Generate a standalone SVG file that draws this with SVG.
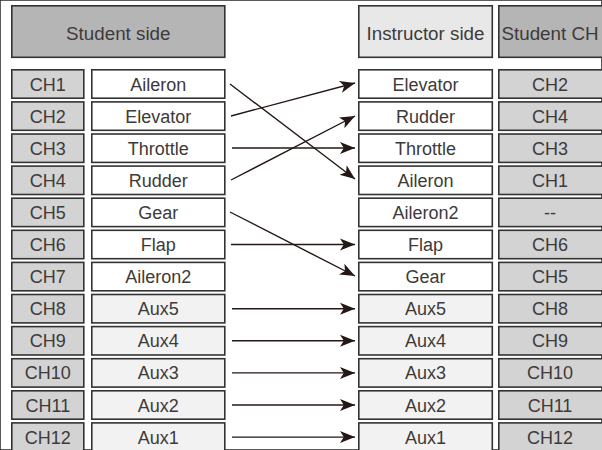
<svg xmlns="http://www.w3.org/2000/svg" width="602" height="450" viewBox="0 0 602 450">
<style>
rect{stroke:#333;stroke-width:1.6}
.hd{fill:#b5b5b6}
.hl{fill:#e8e8e9}
.ch{fill:#d3d3d4}
.w{fill:#ffffff}
.ax{fill:#f2f2f3}
text{font-family:"Liberation Sans",Arial,sans-serif;fill:#3e3a39;text-anchor:middle}
.t{font-size:18px}
.h{font-size:18.8px}
.c line{stroke:#231815;stroke-width:1.4;marker-end:url(#ah)}
</style>
<defs>
<marker id="ah" markerUnits="userSpaceOnUse" markerWidth="17" markerHeight="14" refX="15" refY="7" orient="auto" viewBox="0 0 17 14">
<path d="M0,1 L15,7 L0,13 L3.8,7 Z" fill="#231815"/>
</marker>
</defs>
<rect fill="#fff" stroke="none" x="0" y="0" width="602" height="450"/>
<g id="hdr-student"><rect class="hd" x="11.8" y="5.8" width="213" height="51.5"/><text class="h" x="118.3" y="40">Student side</text></g>
<g id="hdr-instructor"><rect class="hl" x="358.8" y="5.8" width="133.5" height="51.5"/><text class="h" x="425.5" y="40">Instructor side</text></g>
<g id="hdr-studentch"><rect class="hd" x="498.8" y="5.8" width="115" height="51.5"/><text class="h" x="550" y="40">Student CH</text></g>

<g id="row1"><rect class="ch" x="11.8" y="69.8" width="72" height="28.4"/><text class="t" x="47.8" y="90.5">CH1</text><rect class="w" x="91.8" y="69.8" width="133" height="28.4"/><text class="t" x="158.3" y="90.5">Aileron</text></g>
<g id="row2"><rect class="ch" x="11.8" y="101.9" width="72" height="28.4"/><text class="t" x="47.8" y="122.6">CH2</text><rect class="w" x="91.8" y="101.9" width="133" height="28.4"/><text class="t" x="158.3" y="122.6">Elevator</text></g>
<g id="row3"><rect class="ch" x="11.8" y="134" width="72" height="28.4"/><text class="t" x="47.8" y="154.7">CH3</text><rect class="w" x="91.8" y="134" width="133" height="28.4"/><text class="t" x="158.3" y="154.7">Throttle</text></g>
<g id="row4"><rect class="ch" x="11.8" y="166.1" width="72" height="28.4"/><text class="t" x="47.8" y="186.8">CH4</text><rect class="w" x="91.8" y="166.1" width="133" height="28.4"/><text class="t" x="158.3" y="186.8">Rudder</text></g>
<g id="row5"><rect class="ch" x="11.8" y="198.2" width="72" height="28.4"/><text class="t" x="47.8" y="218.9">CH5</text><rect class="w" x="91.8" y="198.2" width="133" height="28.4"/><text class="t" x="158.3" y="218.9">Gear</text></g>
<g id="row6"><rect class="ch" x="11.8" y="230.3" width="72" height="28.4"/><text class="t" x="47.8" y="251">CH6</text><rect class="w" x="91.8" y="230.3" width="133" height="28.4"/><text class="t" x="158.3" y="251">Flap</text></g>
<g id="row7"><rect class="ch" x="11.8" y="262.4" width="72" height="28.4"/><text class="t" x="47.8" y="283.1">CH7</text><rect class="w" x="91.8" y="262.4" width="133" height="28.4"/><text class="t" x="158.3" y="283.1">Aileron2</text></g>
<g id="row8"><rect class="ch" x="11.8" y="294.5" width="72" height="28.4"/><text class="t" x="47.8" y="315.2">CH8</text><rect class="ax" x="91.8" y="294.5" width="133" height="28.4"/><text class="t" x="158.3" y="315.2">Aux5</text></g>
<g id="row9"><rect class="ch" x="11.8" y="326.6" width="72" height="28.4"/><text class="t" x="47.8" y="347.3">CH9</text><rect class="ax" x="91.8" y="326.6" width="133" height="28.4"/><text class="t" x="158.3" y="347.3">Aux4</text></g>
<g id="row10"><rect class="ch" x="11.8" y="358.7" width="72" height="28.4"/><text class="t" x="47.8" y="379.4">CH10</text><rect class="ax" x="91.8" y="358.7" width="133" height="28.4"/><text class="t" x="158.3" y="379.4">Aux3</text></g>
<g id="row11"><rect class="ch" x="11.8" y="390.8" width="72" height="28.4"/><text class="t" x="47.8" y="411.5">CH11</text><rect class="ax" x="91.8" y="390.8" width="133" height="28.4"/><text class="t" x="158.3" y="411.5">Aux2</text></g>
<g id="row12"><rect class="ch" x="11.8" y="422.9" width="72" height="28.4"/><text class="t" x="47.8" y="443.6">CH12</text><rect class="ax" x="91.8" y="422.9" width="133" height="28.4"/><text class="t" x="158.3" y="443.6">Aux1</text></g>

<g id="irow1"><rect class="w" x="358.8" y="69.8" width="133.5" height="28.4"/><text class="t" x="425.5" y="90.5">Elevator</text><rect class="ch" x="498.8" y="69.8" width="115" height="28.4"/><text class="t" x="550" y="90.5">CH2</text></g>
<g id="irow2"><rect class="w" x="358.8" y="101.9" width="133.5" height="28.4"/><text class="t" x="425.5" y="122.6">Rudder</text><rect class="ch" x="498.8" y="101.9" width="115" height="28.4"/><text class="t" x="550" y="122.6">CH4</text></g>
<g id="irow3"><rect class="w" x="358.8" y="134" width="133.5" height="28.4"/><text class="t" x="425.5" y="154.7">Throttle</text><rect class="ch" x="498.8" y="134" width="115" height="28.4"/><text class="t" x="550" y="154.7">CH3</text></g>
<g id="irow4"><rect class="w" x="358.8" y="166.1" width="133.5" height="28.4"/><text class="t" x="425.5" y="186.8">Aileron</text><rect class="ch" x="498.8" y="166.1" width="115" height="28.4"/><text class="t" x="550" y="186.8">CH1</text></g>
<g id="irow5"><rect class="w" x="358.8" y="198.2" width="133.5" height="28.4"/><text class="t" x="425.5" y="218.9">Aileron2</text><rect class="ch" x="498.8" y="198.2" width="115" height="28.4"/><text class="t" x="550" y="218.9">--</text></g>
<g id="irow6"><rect class="w" x="358.8" y="230.3" width="133.5" height="28.4"/><text class="t" x="425.5" y="251">Flap</text><rect class="ch" x="498.8" y="230.3" width="115" height="28.4"/><text class="t" x="550" y="251">CH6</text></g>
<g id="irow7"><rect class="w" x="358.8" y="262.4" width="133.5" height="28.4"/><text class="t" x="425.5" y="283.1">Gear</text><rect class="ch" x="498.8" y="262.4" width="115" height="28.4"/><text class="t" x="550" y="283.1">CH5</text></g>
<g id="irow8"><rect class="ax" x="358.8" y="294.5" width="133.5" height="28.4"/><text class="t" x="425.5" y="315.2">Aux5</text><rect class="ch" x="498.8" y="294.5" width="115" height="28.4"/><text class="t" x="550" y="315.2">CH8</text></g>
<g id="irow9"><rect class="ax" x="358.8" y="326.6" width="133.5" height="28.4"/><text class="t" x="425.5" y="347.3">Aux4</text><rect class="ch" x="498.8" y="326.6" width="115" height="28.4"/><text class="t" x="550" y="347.3">CH9</text></g>
<g id="irow10"><rect class="ax" x="358.8" y="358.7" width="133.5" height="28.4"/><text class="t" x="425.5" y="379.4">Aux3</text><rect class="ch" x="498.8" y="358.7" width="115" height="28.4"/><text class="t" x="550" y="379.4">CH10</text></g>
<g id="irow11"><rect class="ax" x="358.8" y="390.8" width="133.5" height="28.4"/><text class="t" x="425.5" y="411.5">Aux2</text><rect class="ch" x="498.8" y="390.8" width="115" height="28.4"/><text class="t" x="550" y="411.5">CH11</text></g>
<g id="irow12"><rect class="ax" x="358.8" y="422.9" width="133.5" height="28.4"/><text class="t" x="425.5" y="443.6">Aux1</text><rect class="ch" x="498.8" y="422.9" width="115" height="28.4"/><text class="t" x="550" y="443.6">CH12</text></g>

<g id="connectors" class="c">
<line x1="230" y1="84" x2="355" y2="179"/>
<line x1="231" y1="116" x2="355" y2="83"/>
<line x1="232" y1="148" x2="355" y2="148"/>
<line x1="231" y1="180" x2="355" y2="116"/>
<line x1="230" y1="212" x2="355" y2="276"/>
<line x1="231" y1="244.5" x2="355" y2="244.5"/>
<line x1="232" y1="308.7" x2="355" y2="308.7"/>
<line x1="232" y1="340.8" x2="355" y2="340.8"/>
<line x1="232" y1="372.9" x2="355" y2="372.9"/>
<line x1="232" y1="405" x2="355" y2="405"/>
<line x1="232" y1="437.1" x2="355" y2="437.1"/>
</g>
</svg>
